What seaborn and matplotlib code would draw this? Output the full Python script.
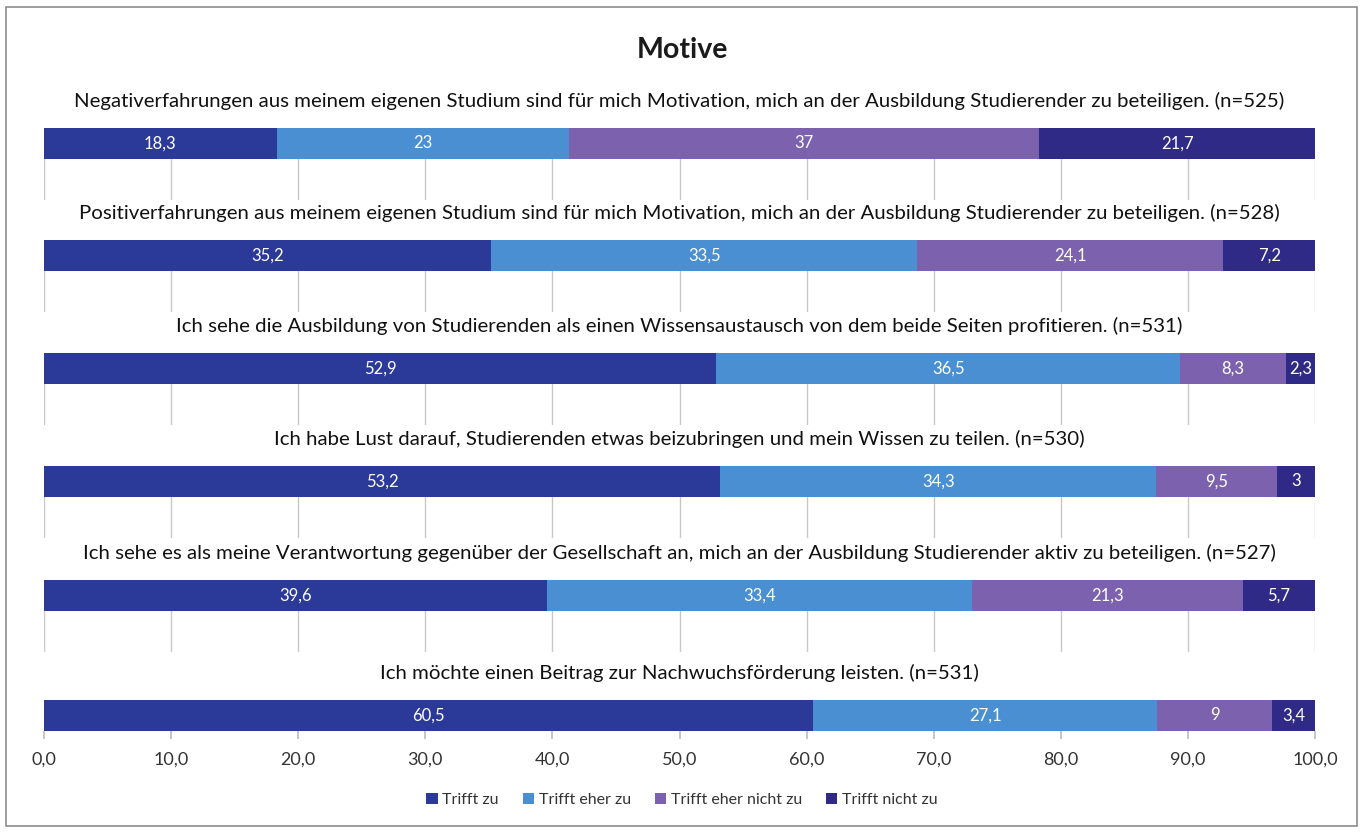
import numpy as np
import pandas as pd
import matplotlib
matplotlib.use("Agg")
import matplotlib.pyplot as plt
import seaborn as sns
from matplotlib.patches import Patch, Rectangle
from matplotlib.ticker import FuncFormatter

statements = [
    "Negativerfahrungen aus meinem eigenen Studium sind für mich Motivation, mich an der Ausbildung Studierender zu beteiligen. (n=525)",
    "Positiverfahrungen aus meinem eigenen Studium sind für mich Motivation, mich an der Ausbildung Studierender zu beteiligen. (n=528)",
    "Ich sehe die Ausbildung von Studierenden als einen Wissensaustausch von dem beide Seiten profitieren. (n=531)",
    "Ich habe Lust darauf, Studierenden etwas beizubringen und mein Wissen zu teilen. (n=530)",
    "Ich sehe es als meine Verantwortung gegenüber der Gesellschaft an, mich an der Ausbildung Studierender aktiv zu beteiligen. (n=527)",
    "Ich möchte einen Beitrag zur Nachwuchsförderung leisten. (n=531)",
]
levels = ["Trifft zu", "Trifft eher zu", "Trifft eher nicht zu", "Trifft nicht zu"]
trifft_zu = [18.3, 35.2, 52.9, 53.2, 39.6, 60.5]
eher_zu = [23, 33.5, 36.5, 34.3, 33.4, 27.1]
eher_nicht = [37, 24.1, 8.3, 9.5, 21.3, 9]
nicht_zu = [21.7, 7.2, 2.3, 3, 5.7, 3.4]
colors = ["#2B3A98", "#4A8FD1", "#7C62AE", "#2E2A86"]

sns.set_theme(style="white")
plt.rcParams["font.family"] = ["Lato", "DejaVu Sans"]

W, H = 1365, 833
fig = plt.figure(figsize=(W / 100, H / 100), dpi=100)
fig.patch.set_facecolor("white")
fig.patches.append(Rectangle((6 / W, 7 / H), 1351 / W, 819 / H, transform=fig.transFigure,
                             fill=False, edgecolor="#8c8c8c", linewidth=1.2))

fig.text(682 / W, 1 - 50 / H, "Motive", ha="center", va="center",
         fontsize=20.5, fontweight="bold", color="#1a1a1a")

def fmt(v):
    s = ("%.1f" % v).rstrip("0").rstrip(".")
    return s.replace(".", ",")

series = [trifft_zu, eher_zu, eher_nicht, nicht_zu]
bar_tops = [128, 240, 353, 466, 580, 700]
left, right = 44, 1315
bar_px = 31
grid_px = 41

for i, stmt in enumerate(statements):
    last = i == len(statements) - 1
    h = bar_px if last else bar_px + grid_px
    top = bar_tops[i]
    ax = fig.add_axes([left / W, 1 - (top + h) / H, (right - left) / W, h / H])
    vals = [s[i] for s in series]
    cum = np.cumsum(vals)
    # stacked by painting cumulative totals from longest to shortest
    for k in range(len(vals) - 1, -1, -1):
        df = pd.DataFrame({"cat": [stmt], "val": [cum[k]]})
        sns.barplot(data=df, x="val", y="cat", orient="h", color=colors[k],
                    width=0.8, saturation=1, ax=ax, linewidth=0)
    for k, v in enumerate(vals):
        ax.text(cum[k] - v / 2, 0, fmt(v), ha="center", va="center",
                color="white", fontsize=12)
    ax.set_xlim(0, 100)
    ax.set_xticks(np.arange(0, 101, 10))
    if last:
        ax.set_ylim(0.4, -0.4)
    else:
        ax.set_ylim(0.4 + 0.8 * grid_px / bar_px, -0.4)
    ax.set_ylabel("")
    ax.set_xlabel("")
    ax.set_yticks([])
    for sp in ax.spines.values():
        sp.set_visible(False)
    ax.set_axisbelow(True)
    if last:
        ax.tick_params(axis="x", bottom=True, length=6, color="#bfbfbf",
                       labelsize=13, labelcolor="#333333", pad=9)
        ax.xaxis.set_major_formatter(FuncFormatter(lambda x, p: ("%.1f" % x).replace(".", ",")))
    else:
        ax.grid(axis="x", color="#c8c8c8", linewidth=1)
        ax.tick_params(axis="x", bottom=False, labelbottom=False)
    ax.annotate(stmt, xy=(0.5, 1), xycoords="axes fraction", xytext=(0, 27),
                textcoords="offset pixels", ha="center", va="center",
                fontsize=14.7, color="#111111")

handles = [Patch(facecolor=c, edgecolor="none") for c in colors]
fig.legend(handles, levels, loc="center", bbox_to_anchor=(682 / W, 1 - 800 / H),
           ncol=4, frameon=False, fontsize=11.5, handlelength=0.7, handleheight=0.7,
           handletextpad=0.3, columnspacing=1.5, labelcolor="#333333")

fig.savefig("out.png", dpi=100, facecolor="white")
